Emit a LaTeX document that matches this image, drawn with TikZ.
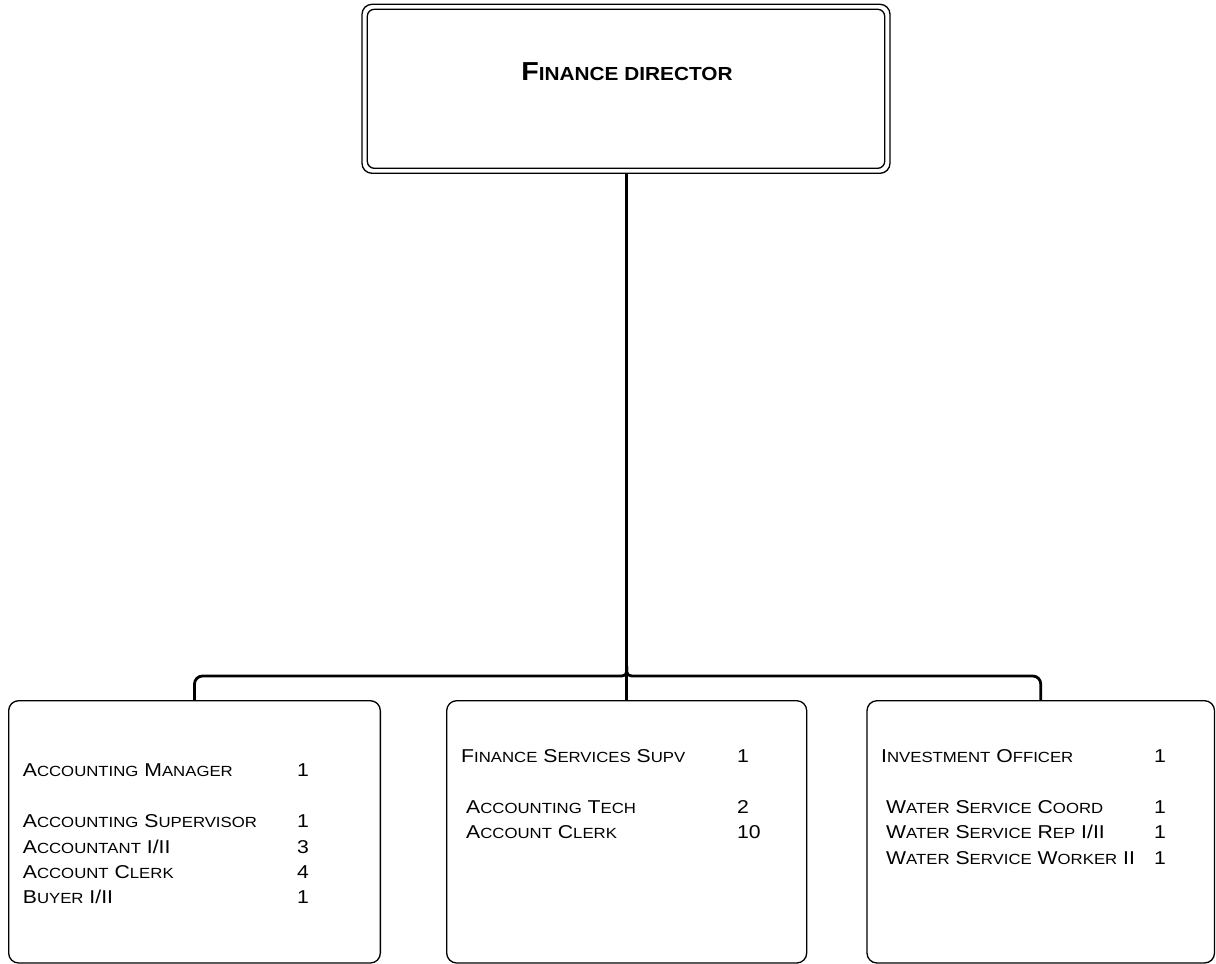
\documentclass[tikz,border=0pt]{standalone}
\usepackage{fontspec}
\usetikzlibrary{calc}
\setmainfont[FakeStretch=1.14]{Liberation Sans}
\newfontfamily\boldfam[FakeStretch=1.1]{Liberation Sans Bold}
\newcommand{\sm}[1]{{\fontsize{14.7}{14.7}\selectfont #1}}
\newcommand{\bsm}[1]{{\fontsize{18.9}{18.9}\selectfont #1}}
\begin{document}
\begin{tikzpicture}[x=1pt,y=-1pt,
  box/.style={draw=black,line width=1.3pt,rounded corners=10pt},
  conn/.style={draw=black,line width=2.8pt},
  lbl/.style={anchor=base west,inner sep=0pt,font=\fontsize{18.6}{18.6}\selectfont},
  num/.style={anchor=base west,inner sep=0pt,font=\fontsize{18.6}{18.6}\selectfont}]
\useasboundingbox (0,0) rectangle (1216,964);
% top box
\draw[box] (362,4.3) rectangle (890,173.3);
\draw[draw=black,line width=1.3pt,rounded corners=7pt] (367.3,9.3) rectangle (884.7,168.3);
\node[draw=none,minimum width=528pt,minimum height=169pt,inner sep=0pt] (top) at (626,88.8) {};
\node[anchor=base,inner sep=0pt] (toptxt) at (627,80.7) {\boldfam\fontsize{26}{26}\selectfont F\bsm{INANCE DIRECTOR}};
% bottom boxes
\node[box,minimum width=371.7pt,minimum height=262.3pt,inner sep=0pt] (left) at (194.5,831.85) {};
\node[box,minimum width=360pt,minimum height=262.3pt,inner sep=0pt] (mid) at (626.7,831.85) {};
\node[box,minimum width=347.5pt,minimum height=262.3pt,inner sep=0pt] (right) at (1040.75,831.85) {};
% connectors
\coordinate (j) at (626.7,666);
\coordinate (bar) at (626.7,676);
\draw[conn] (top.south -| mid.north) -- (mid.north);
\draw[conn] (j) .. controls ($(j)+(0,10)$) .. ($(j)+(-10,10)$) [rounded corners=8pt] -- (bar -| left.north) -- (left.north);
\draw[conn] (j) .. controls ($(j)+(0,10)$) .. ($(j)+(10,10)$) [rounded corners=8pt] -- (bar -| right.north) -- (right.north);
% left texts
\node[lbl] (l1) at (22.7,776) {A\sm{CCOUNTING} M\sm{ANAGER}};
\node[lbl] (l2) at (22.7,827) {A\sm{CCOUNTING} S\sm{UPERVISOR}};
\node[lbl] (l3) at (22.7,853) {A\sm{CCOUNTANT} I/II};
\node[lbl] (l4) at (22.7,878) {A\sm{CCOUNT} C\sm{LERK}};
\node[lbl] (l5) at (22.7,903) {B\sm{UYER} I/II};
\node[num] (n1) at (297,776) {1};
\node[num] (n2) at (297,827) {1};
\node[num] (n3) at (297,853) {3};
\node[num] (n4) at (297,878) {4};
\node[num] (n5) at (297,903) {1};
% middle texts
\node[lbl] (m1) at (461,762) {F\sm{INANCE} S\sm{ERVICES} S\sm{UPV}};
\node[lbl] (m2) at (466,813) {A\sm{CCOUNTING} T\sm{ECH}};
\node[lbl] (m3) at (466,838) {A\sm{CCOUNT} C\sm{LERK}};
\node[num] (mn1) at (737,762) {1};
\node[num] (mn2) at (737,813) {2};
\node[num] (mn3) at (737,838) {10};
% right texts
\node[lbl] (r1) at (881,762) {I\sm{NVESTMENT} O\sm{FFICER}};
\node[lbl] (r2) at (886,813) {W\sm{ATER} S\sm{ERVICE} C\sm{OORD}};
\node[lbl] (r3) at (886,838) {W\sm{ATER} S\sm{ERVICE} R\sm{EP} I/II};
\node[lbl] (r4) at (886,864) {W\sm{ATER} S\sm{ERVICE} W\sm{ORKER} II};
\node[num] (rn1) at (1154,762) {1};
\node[num] (rn2) at (1154,813) {1};
\node[num] (rn3) at (1154,838) {1};
\node[num] (rn4) at (1154,864) {1};
\end{tikzpicture}
\end{document}
